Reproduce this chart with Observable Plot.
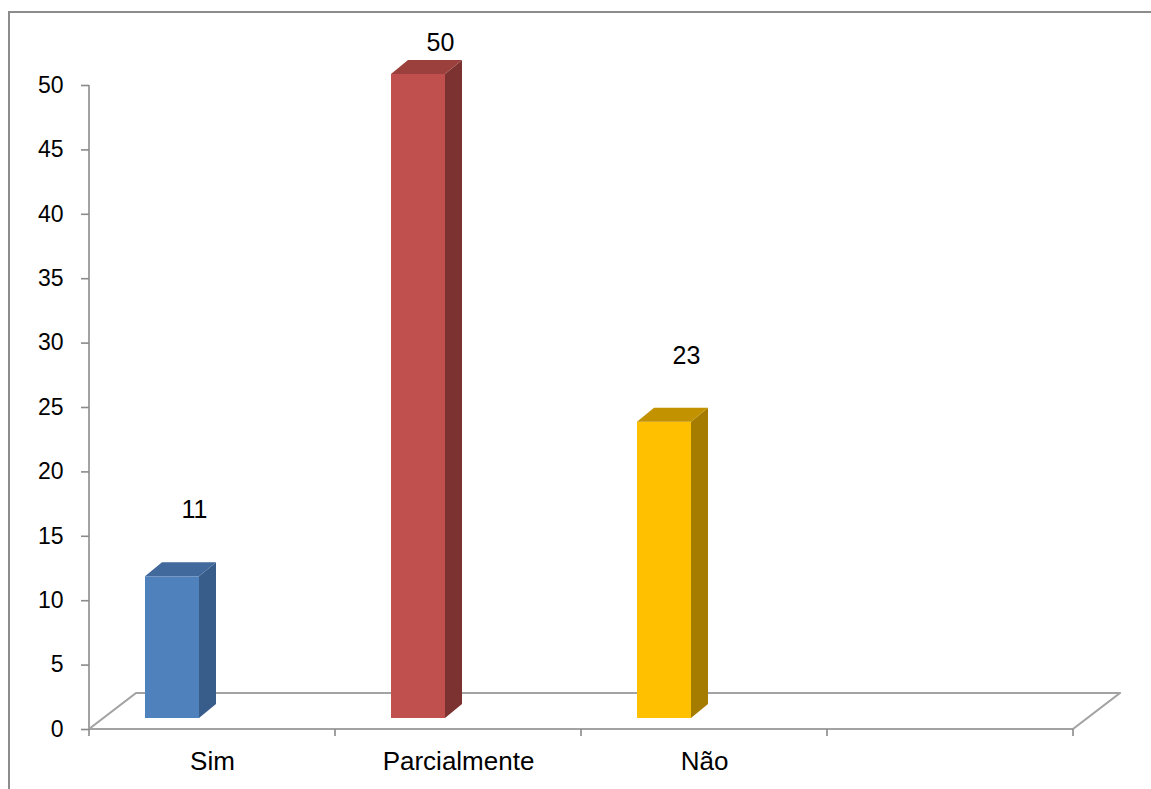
<!DOCTYPE html>
<html><head><meta charset="utf-8">
<script src="https://cdn.jsdelivr.net/npm/d3@7"></script>
<script src="https://cdn.jsdelivr.net/npm/@observablehq/plot@0.6"></script>
<style>
html,body{margin:0;padding:0;background:#fff;overflow:hidden;}
#wrap{position:relative;width:1151px;height:789px;}
#border{position:absolute;left:8px;top:11px;width:1300px;height:900px;border-left:2px solid #8c8c8c;border-top:2px solid #8c8c8c;}
#chart{position:absolute;left:0;top:0;}
</style></head><body>
<div id="wrap"><div id="border"></div><div id="chart"></div></div>
<script>
// ---- data ----
const categories = ["Sim", "Parcialmente", "Não"];
const values = [11, 50, 23];
const xDomain = [...categories, ""];           // fourth, empty category slot
const yTicks = [0, 5, 10, 15, 20, 25, 30, 35, 40, 45, 50];
const frontColors = ["#4f81bd", "#c0504d", "#ffc000"];
const sideColors = ["#385d8a", "#7c3230", "#a67c00"];
const topColors = ["#41699b", "#9c403d", "#c29200"];

const data = categories.map((c, i) => ({cat: c, value: values[i], front: frontColors[i], side: sideColors[i], top: topColors[i]}));

// ---- 3D look (pixel offsets) ----
const FLOOR = [47, -36];   // floor depth
const BAR_DY = -11;        // bar front face sits this far behind the floor front edge
const DEPTH = [17, -14];   // bar depth
const BAR_L = 56, BAR_R = 110; // bar front face inside the band

const gray = "#a3a3a3";

function floorMark(index, {x, y}) {
  const g = d3.create("svg:g");
  const bw = x.bandwidth();
  const x0 = x(xDomain[0]), x1 = x(xDomain[xDomain.length - 1]) + bw, y0 = y(0);
  const pts = [[x0, y0], [x1, y0], [x1 + FLOOR[0], y0 + FLOOR[1]], [x0 + FLOOR[0], y0 + FLOOR[1]]];
  g.append("path").attr("d", "M" + pts.map(p => p.join(",")).join("L") + "Z")
    .attr("fill", "none").attr("stroke", gray).attr("stroke-width", 2.2).attr("stroke-linejoin", "round");
  // y axis line
  g.append("line").attr("x1", x0).attr("x2", x0).attr("y1", y(50)).attr("y2", y0)
    .attr("stroke", gray).attr("stroke-width", 2);
  // category boundary ticks
  const bounds = xDomain.map(d => x(d)).concat([x1]);
  for (const bx of bounds) {
    g.append("line").attr("x1", bx).attr("x2", bx).attr("y1", y0).attr("y2", y0 + 7)
      .attr("stroke", "#8a8a8a").attr("stroke-width", 1.6);
  }
  return g.node();
}

function facesMark(index, {x, y}) {
  const g = d3.create("svg:g");
  for (const d of data) {
    const xl = x(d.cat) + BAR_L, xr = x(d.cat) + BAR_R;
    const yt = y(d.value) + BAR_DY, yb = y(0) + BAR_DY;
    const side = [[xr, yt], [xr + DEPTH[0], yt + DEPTH[1]], [xr + DEPTH[0], yb + DEPTH[1]], [xr, yb]];
    const top = [[xl, yt], [xr, yt], [xr + DEPTH[0], yt + DEPTH[1]], [xl + DEPTH[0], yt + DEPTH[1]]];
    g.append("path").attr("d", "M" + side.map(p => p.join(",")).join("L") + "Z").attr("fill", d.side);
    g.append("path").attr("d", "M" + top.map(p => p.join(",")).join("L") + "Z").attr("fill", d.top);
  }
  return g.node();
}

const chart = Plot.plot({
  width: 1151,
  height: 789,
  marginLeft: 89,
  marginRight: 78,
  marginTop: 85,
  marginBottom: 60,
  style: {fontFamily: "'Liberation Sans', Arial, sans-serif", fontSize: "22px", background: "transparent", overflow: "visible"},
  x: {type: "band", domain: xDomain, padding: 0, axis: null},
  y: {domain: [0, 50], axis: null},
  color: {type: "identity"},
  marks: [
    floorMark,
    Plot.axisY({ticks: yTicks, tickSize: 8, tickPadding: 18, stroke: "#8a8a8a", strokeWidth: 1.6, fill: "black", fontSize: 23, label: null}),
    Plot.axisX({tickSize: 0, tickPadding: 22, fill: "black", fontSize: 26, label: null, tickFormat: d => d}),
    Plot.barY(data, {x: "cat", y: "value", fill: "front", insetLeft: BAR_L, insetRight: 246 - BAR_R, dy: BAR_DY}),
    facesMark,
    Plot.text(data, {x: "cat", y: d => Math.min(d.value + 5.4, 52.7), dx: -18, text: d => String(d.value), lineAnchor: "bottom", fontSize: 25, fill: "black"})
  ]
});
document.getElementById("chart").appendChild(chart);
</script>
</body></html>
